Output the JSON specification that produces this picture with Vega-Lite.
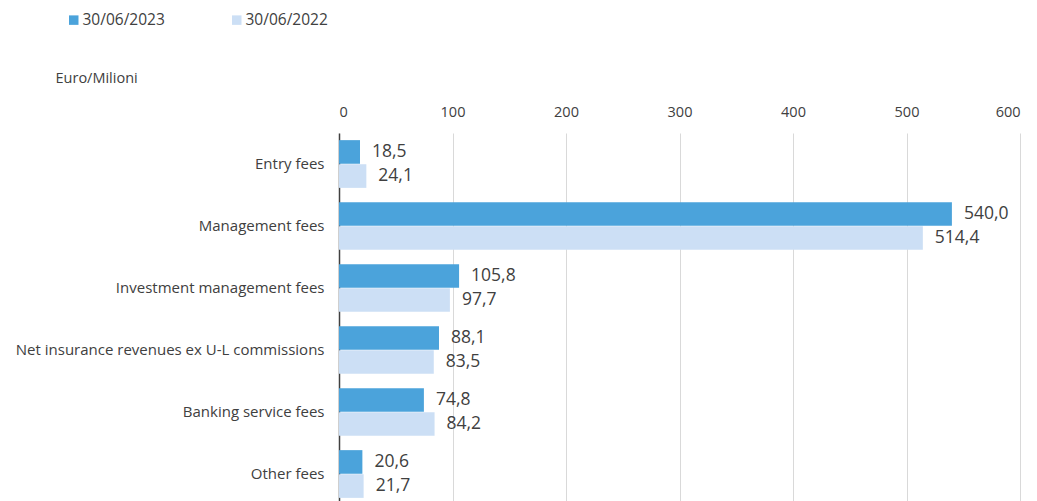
{
  "$schema": "https://vega.github.io/schema/vega-lite/v6.json",
  "autosize": "none",
  "width": 681,
  "height": 372,
  "padding": {"left": 339, "top": 133, "right": 17, "bottom": 0},
  "background": "white",
  "config": {
    "font": "Open Sans",
    "view": {"stroke": null},
    "locale": {"number": {"decimal": ",", "thousands": ".", "grouping": [3], "currency": ["€", ""]}}
  },
  "data": {
    "values": [
      {"category": "Entry fees", "period": "30/06/2023", "value": 18.5},
      {"category": "Entry fees", "period": "30/06/2022", "value": 24.1},
      {"category": "Management fees", "period": "30/06/2023", "value": 540.0},
      {"category": "Management fees", "period": "30/06/2022", "value": 514.4},
      {"category": "Investment management fees", "period": "30/06/2023", "value": 105.8},
      {"category": "Investment management fees", "period": "30/06/2022", "value": 97.7},
      {"category": "Net insurance revenues ex U-L commissions", "period": "30/06/2023", "value": 88.1},
      {"category": "Net insurance revenues ex U-L commissions", "period": "30/06/2022", "value": 83.5},
      {"category": "Banking service fees", "period": "30/06/2023", "value": 74.8},
      {"category": "Banking service fees", "period": "30/06/2022", "value": 84.2},
      {"category": "Other fees", "period": "30/06/2023", "value": 20.6},
      {"category": "Other fees", "period": "30/06/2022", "value": 21.7}
    ]
  },
  "encoding": {
    "y": {
      "field": "category",
      "type": "nominal",
      "sort": null,
      "scale": {"paddingInner": 0.23, "paddingOuter": 0.115},
      "axis": {
        "title": "Euro/Milioni",
        "titleAngle": 0,
        "titleAlign": "left",
        "titleBaseline": "middle",
        "titleX": -284,
        "titleY": -55,
        "titleFontSize": 14.5,
        "titleFontWeight": "normal",
        "titleColor": "#404040",
        "labelFontSize": 15,
        "labelColor": "#404040",
        "labelPadding": 15,
        "ticks": false,
        "domain": true,
        "domainColor": "#404040",
        "domainWidth": 1.5,
        "labelLimit": 400
      }
    },
    "yOffset": {"field": "period", "type": "nominal", "sort": ["30/06/2023", "30/06/2022"], "scale": {"paddingInner": 0.02}},
    "x": {
      "field": "value",
      "type": "quantitative",
      "scale": {"domain": [0, 600], "nice": false},
      "axis": {
        "orient": "top",
        "title": null,
        "values": [0, 100, 200, 300, 400, 500, 600],
        "format": "d",
        "labelFontSize": 14.5,
        "labelColor": "#404040",
        "labelPadding": 14,
        "ticks": false,
        "domain": false,
        "grid": true,
        "gridColor": "#d9d9d9",
        "gridWidth": 1
      }
    }
  },
  "layer": [
    {
      "mark": {"type": "bar", "strokeWidth": 1},
      "encoding": {
        "color": {
          "field": "period",
          "type": "nominal",
          "scale": {"domain": ["30/06/2023", "30/06/2022"], "range": ["#4BA3DB", "#CCDFF5"]},
          "legend": {
            "title": null,
            "orient": "none",
            "direction": "horizontal",
            "legendX": -273,
            "legendY": -121,
            "symbolType": "square",
            "symbolSize": 90,
            "symbolStrokeWidth": 0,
            "labelFontSize": 15.5,
            "labelColor": "#404040",
            "labelOffset": 1,
            "columnPadding": 64
          }
        }
      }
    },
    {
      "mark": {"type": "text", "align": "left", "baseline": "middle", "dx": 12, "fontSize": 17.5, "color": "#404040"},
      "encoding": {
        "text": {"field": "value", "type": "quantitative", "format": ".1f"}
      }
    }
  ]
}
